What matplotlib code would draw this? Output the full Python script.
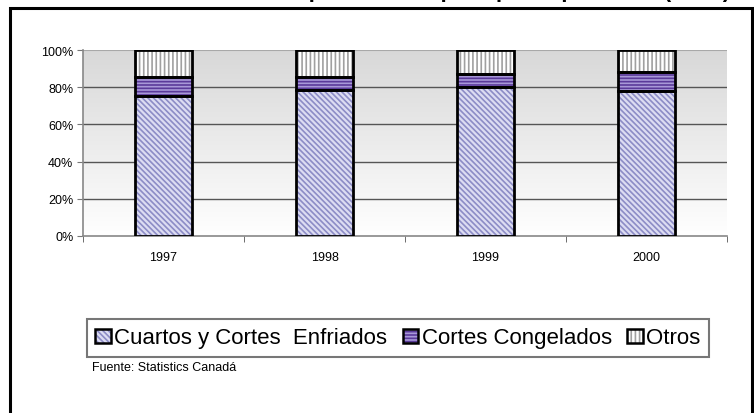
import numpy as np
import matplotlib
matplotlib.use("Agg")
import matplotlib.pyplot as plt
from matplotlib.patches import Rectangle, Patch
from matplotlib.ticker import PercentFormatter, FixedLocator

plt.rcParams['font.family'] = ['Liberation Sans', 'DejaVu Sans']
plt.rcParams['hatch.linewidth'] = 1.2

years = ["1997", "1998", "1999", "2000"]
enfriados = [75.5, 78.5, 80.0, 78.0]
congelados = [10.0, 7.0, 7.0, 10.0]
otros = [14.5, 14.5, 13.0, 12.0]
series_names = ["Cuartos y Cortes  Enfriados", "Cortes Congelados", "Otros"]
title = "Estructura de las exportaciones por tipo de producto (en %)"
source = "Fuente: Statistics Canadá"

W, H = 754, 414
fig = plt.figure(figsize=(W / 100, H / 100), dpi=100)

# outer frame
fig.patches.append(Rectangle((9.5 / W, -0.1), (752 - 9.5) / W, 1.1 - 8.5 / H,
                             transform=fig.transFigure, fill=False,
                             edgecolor='black', linewidth=2.2, zorder=0))

ax = fig.add_axes([83 / W, 1 - 237 / H, (727 - 83) / W, (237 - 51) / H])

# gradient background
grad = np.linspace(0, 1, 256).reshape(-1, 1)
cmap = matplotlib.colors.LinearSegmentedColormap.from_list('g', ['#ffffff', '#d8d8d8'])
ax.imshow(grad, extent=[0, 1, 0, 1], transform=ax.transAxes, origin='lower',
          aspect='auto', cmap=cmap, zorder=0)

x = np.arange(len(years))
w = 0.36
styles = [
    dict(facecolor='#dcdcf2', hatch='\\\\\\\\\\\\', hcolor='#8c8cc6'),
    dict(facecolor='#a898d8', hatch='-----', hcolor='#5a3a9a'),
    dict(facecolor='#ffffff', hatch='||||', hcolor='#a0a0a0'),
]
data = [enfriados, congelados, otros]
bottom = np.zeros(len(years))
handles = []
for vals, st in zip(data, styles):
    ax.bar(x, vals, w, bottom=bottom, facecolor=st['facecolor'], hatch=st['hatch'],
           edgecolor=st['hcolor'], linewidth=0, zorder=3)
    ax.bar(x, vals, w, bottom=bottom, fill=False, edgecolor='black',
           linewidth=2.0, zorder=4)
    bottom += np.array(vals)
    handles.append((Patch(facecolor=st['facecolor'], hatch=st['hatch'],
                          edgecolor=st['hcolor'], linewidth=0),
                    Patch(fill=False, edgecolor='black', linewidth=1.8)))

ax.set_xlim(-0.5, len(years) - 0.5)
ax.set_ylim(0, 100)
ax.set_yticks([0, 20, 40, 60, 80, 100])
ax.yaxis.set_major_formatter(PercentFormatter(decimals=0))
for yv in [20, 40, 60, 80]:
    ax.axhline(yv, color='#555555', linewidth=1.0, zorder=1)
ax.axhline(100, color='#a8a8a8', linewidth=1.5, zorder=1)

ax.set_xticks(x)
ax.set_xticklabels(years)
ax.xaxis.set_minor_locator(FixedLocator(np.arange(-0.5, len(years), 1.0)))
ax.tick_params(axis='x', which='major', length=0, labelsize=9, pad=11)
ax.tick_params(axis='x', which='minor', length=4, color='#555555', direction='out')
ax.tick_params(axis='y', length=4, color='#777777', labelsize=9, direction='out', pad=3)

for s in ['top', 'right']:
    ax.spines[s].set_visible(False)
ax.spines['left'].set_color('#888888')
ax.spines['left'].set_linewidth(1.2)
ax.spines['bottom'].set_color('#888888')
ax.spines['bottom'].set_linewidth(1.2)

leg = fig.legend(handles, series_names, loc='center left',
                 bbox_to_anchor=(87 / W, 1 - 339 / H), ncol=3, frameon=True,
                 fontsize=16, handlelength=0.7, handleheight=0.6,
                 handletextpad=0.15, columnspacing=0.7, borderpad=0.38,
                 borderaxespad=0, fancybox=False, edgecolor='#555555')
leg.get_frame().set_linewidth(1.5)

fig.text(92 / W, 1 - 368 / H, source, fontsize=9, va='center', ha='left')

fig.text(730 / W, 1 + 2.5 / H, title, fontsize=16, fontweight='bold',
         ha='right', va='baseline')

fig.savefig('out.png', dpi=100)
